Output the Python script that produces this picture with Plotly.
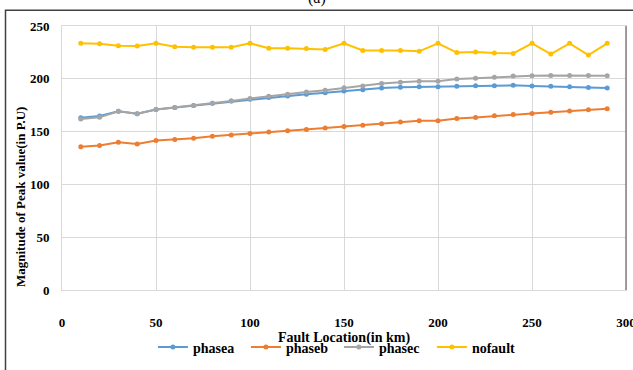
import plotly.graph_objects as go

fault_km = [10, 20, 30, 40, 50, 60, 70, 80, 90, 100, 110, 120, 130, 140, 150,
            160, 170, 180, 190, 200, 210, 220, 230, 240, 250, 260, 270, 280, 290]

phasea = [163.2, 164.8, 169.3, 167.0, 171.0, 172.8, 174.8, 176.8, 178.9, 180.7,
          182.3, 183.8, 185.4, 186.8, 188.5, 189.6, 191.2, 192.1, 192.4, 192.4,
          193.0, 193.5, 193.5, 193.8, 193.3, 193.0, 192.4, 191.8, 191.2]
phaseb = [135.6, 136.8, 140.0, 138.3, 141.5, 142.6, 143.8, 145.6, 146.8, 148.2,
          149.7, 150.9, 152.0, 153.5, 154.9, 156.1, 157.5, 159.0, 160.2, 160.2,
          162.5, 163.4, 164.9, 166.3, 167.2, 168.4, 169.6, 170.7, 171.6]
phasec = [162.0, 163.5, 169.3, 167.0, 171.0, 172.8, 174.8, 176.8, 178.9, 181.3,
          183.5, 185.4, 187.4, 189.1, 191.5, 193.2, 195.6, 196.8, 197.6, 197.6,
          199.7, 200.5, 201.4, 202.6, 202.9, 203.2, 203.2, 203.2, 202.9]
nofault = [233.6, 233.3, 231.2, 231.0, 233.6, 230.4, 229.8, 229.8, 229.8, 233.6,
           229.0, 229.0, 228.7, 227.7, 233.6, 226.9, 226.9, 226.9, 226.0, 233.6,
           224.8, 225.4, 224.5, 224.0, 233.6, 223.4, 233.6, 222.5, 233.6]

series = [("phasea", phasea, "#5B9BD5"),
          ("phaseb", phaseb, "#ED7D31"),
          ("phasec", phasec, "#A5A5A5"),
          ("nofault", nofault, "#FFC000")]

FONT = "Liberation Serif"

fig = go.Figure()
for name, vals, col in series:
    fig.add_trace(go.Scatter(
        x=fault_km, y=vals, name=name, mode="lines+markers",
        line=dict(color=col, width=2),
        marker=dict(color=col, size=5),
    ))

fig.update_layout(
    width=633, height=370,
    margin=dict(l=62, r=7, t=26, b=60),
    paper_bgcolor="white", plot_bgcolor="white",
    font=dict(family=FONT, size=13, color="black"),
    showlegend=True,
    legend=dict(orientation="h", x=0.491, xanchor="center", y=-0.157, yanchor="top",
                font=dict(family=FONT, size=14, color="black", weight="bold"),
                itemwidth=30, tracegroupgap=0, entrywidth=48, entrywidthmode="pixels"),
    xaxis=dict(
        range=[0, 300], dtick=50, tick0=0, automargin=False,
        showgrid=True, gridcolor="#D9D9D9", gridwidth=1,
        showline=True, linecolor="#D9D9D9", linewidth=1, mirror=True,
        zeroline=False, ticks="", ticklabelstandoff=20, ticklabeloverflow="allow",
        tickfont=dict(family=FONT, size=13, color="black", weight="bold"),
        title=dict(text="Fault Location(in km)", standoff=1,
                   font=dict(family=FONT, size=14, color="black", weight="bold")),
    ),
    yaxis=dict(
        range=[0, 250], dtick=50, tick0=0, automargin=False,
        showgrid=True, gridcolor="#D9D9D9", gridwidth=1,
        showline=True, linecolor="#D9D9D9", linewidth=1, mirror=True,
        zeroline=False, ticks="", ticklabelstandoff=9, ticklabeloverflow="allow",
        tickfont=dict(family=FONT, size=13, color="black", weight="bold"),
    ),
    shapes=[
        # outer figure frame
        dict(type="rect", xref="paper", yref="paper",
             x0=-56.5 / 564, x1=1.2, y0=-0.5, y1=(310 - 9) / 284,
             line=dict(color="#404040", width=1.5), fillcolor="rgba(0,0,0,0)",
             layer="below"),
        # darker right border of plot area
        dict(type="line", xref="paper", yref="paper",
             x0=1, x1=1, y0=0, y1=1,
             line=dict(color="#808080", width=1.5)),
    ],
    annotations=[
        dict(text="(a)", xref="paper", yref="paper",
             x=(317 - 62) / 564, y=(310 - 8) / 284,
             xanchor="center", yanchor="bottom", showarrow=False,
             font=dict(family=FONT, size=16, color="black")),
        dict(text="Magnitude of Peak value(in P.U)", xref="paper", yref="paper",
             x=(20 - 62) / 564, y=(310 - 210) / 284, textangle=-90,
             xanchor="center", yanchor="middle", showarrow=False,
             font=dict(family=FONT, size=13, color="black", weight="bold")),
    ],
)

fig.write_html("out.html")
